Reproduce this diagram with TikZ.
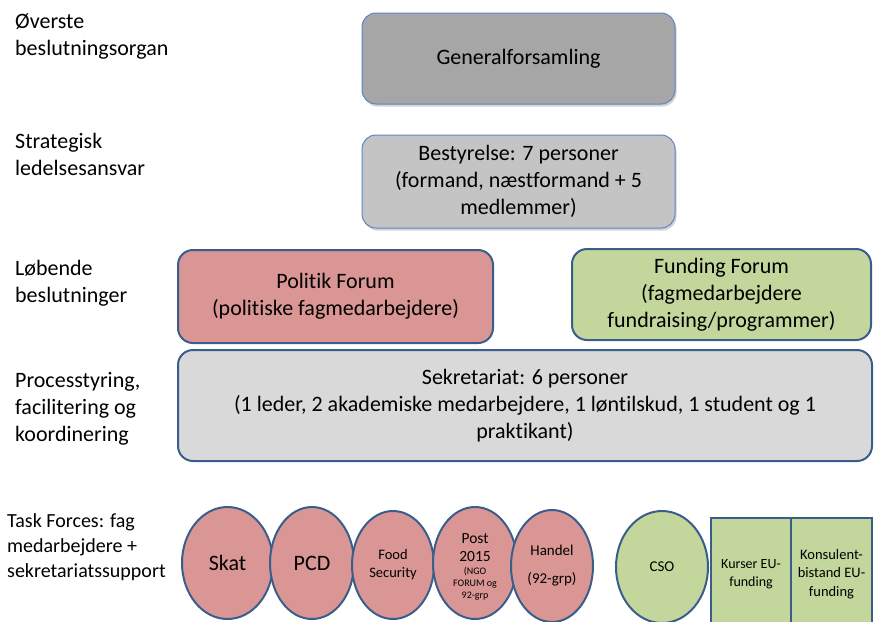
\documentclass[tikz,border=0pt]{standalone}
\usepackage{fontspec}
\setmainfont{Carlito}[Ligatures=NoCommon]
\usetikzlibrary{shapes.geometric,shadows}
\definecolor{edgeblue}{HTML}{3A5E8C}
\definecolor{thinblue}{HTML}{5B87C2}
\definecolor{gfill}{HTML}{A6A6A6}
\definecolor{bfill}{HTML}{C4C4C4}
\definecolor{sfill}{HTML}{D9D9D9}
\definecolor{pinkfill}{HTML}{D99694}
\definecolor{greenfill}{HTML}{C3D69B}
\newcommand\fbig{\fontsize{22}{27}\selectfont}
\newcommand\fmid{\fontsize{20}{25}\selectfont}
\newcommand\fpost{\fontsize{15.5}{18}\selectfont}
\begin{document}
\begin{tikzpicture}[x=1pt,y=-1pt,
  box/.style={draw=edgeblue,line width=2pt,rounded corners=15pt,align=center,inner sep=0pt,font=\fbig},
  topbox/.style={draw=thinblue,line width=1pt,rounded corners=14pt,align=center,inner sep=0pt,font=\fbig,
    drop shadow={opacity=0.35,shadow xshift=1.5pt,shadow yshift=-2.5pt}},
  oval/.style={ellipse,draw=edgeblue,line width=2pt,fill=pinkfill,inner sep=0pt,align=center,minimum height=112pt},
  sqbox/.style={draw=edgeblue,line width=2pt,fill=greenfill,inner sep=0pt,align=center},
  lbl/.style={anchor=west,align=left,inner sep=0pt,font=\fbig}]
\useasboundingbox (0,0) rectangle (874,621);

% left labels
\node[lbl] (l1) at (15,36.5) {Øverste\\beslutningsorgan};
\node[lbl] (l2) at (15,154.5) {Strategisk\\ledelsesansvar};
\node[lbl] (l3) at (15,283.5) {Løbende\\beslutninger};
\node[lbl] (l4) at (15,408.5) {Processtyring,\\facilitering og\\koordinering};
\node[lbl,font=\fmid] (l5) at (7,547) {Task Forces: fag\\medarbejdere +\\sekretariatssupport};

% main boxes
\node[topbox,fill=gfill,minimum width=313pt,minimum height=91pt] (gen) at (518.5,58.5) {Generalforsamling};
\node[topbox,fill=bfill,minimum width=313pt,minimum height=93pt] (bes) at (518.5,181.5)
  {Bestyrelse: 7 personer\\(formand, næstformand + 5\\medlemmer)};
\node[box,fill=pinkfill,minimum width=315pt,minimum height=93pt] (pol) at (335.5,296.5)
  {Politik Forum\\(politiske fagmedarbejdere)};
\node[box,fill=greenfill,minimum width=299pt,minimum height=91pt] (fun) at (721.5,294.5)
  {Funding Forum\\(fagmedarbejdere\\fundraising/programmer)};
\node[box,fill=sfill,minimum width=694pt,minimum height=111pt] (sek) at (525,405.5)
  {Sekretariat: 6 personer\\(1 leder, 2 akademiske medarbejdere, 1 løntilskud, 1 student og 1\\praktikant)};

% task force ovals
\node[oval,minimum width=91pt,font=\fontsize{22}{27}\selectfont] (skat) at (227.5,563) {Skat};
\node[oval,minimum width=84pt,font=\fontsize{22}{27}\selectfont] (pcd) at (312,563) {PCD};
\node[oval,minimum width=82pt,minimum height=108pt,font=\fontsize{14.5}{18}\selectfont] (food) at (393,565) {Food\\Security};
\node[oval,minimum width=84pt,font=\fontsize{10}{12}\selectfont] (post) at (475,563)
  {\fpost\rule{0pt}{17pt}Post\\[6pt]\fpost 2015\\[1pt](NGO\\FORUM og\\92-grp};
\node[oval,minimum width=82pt,font=\fontsize{15}{28}\selectfont] (handel) at (552,566) {Handel\\(92-grp)};
\node[oval,fill=greenfill,minimum width=92pt,font=\fontsize{15}{18}\selectfont] (cso) at (662,567) {CSO};

\node[sqbox,minimum width=80pt,minimum height=112pt,font=\fontsize{14}{18}\selectfont] (kur) at (751,574) {Kurser EU-\\funding};
\node[sqbox,minimum width=81pt,minimum height=112pt,font=\fontsize{14.5}{18.5}\selectfont] (kon) at (831.5,574) {Konsulent-\\bistand EU-\\funding};
\end{tikzpicture}
\end{document}
